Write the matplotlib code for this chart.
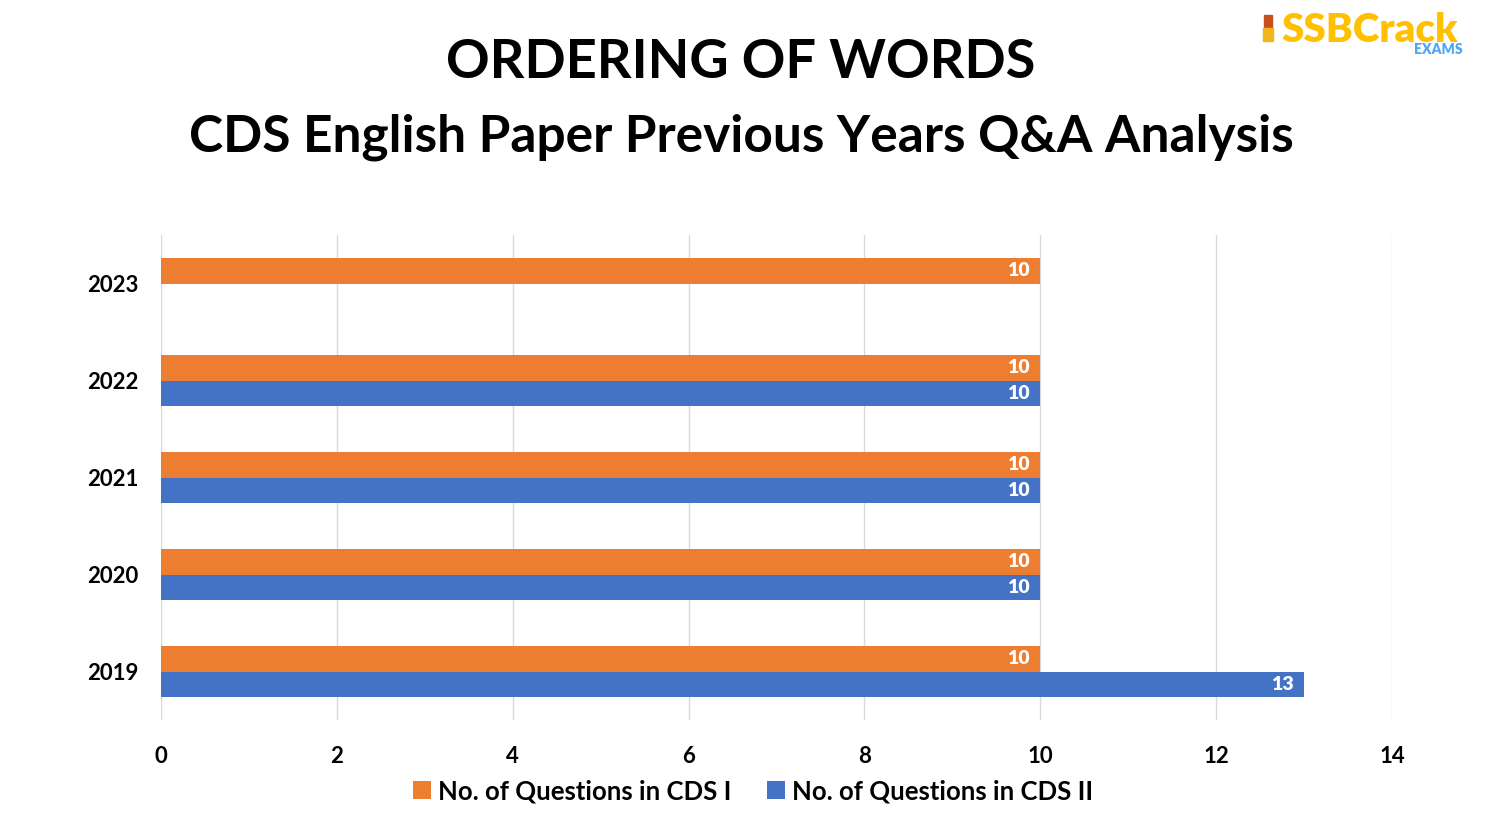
import matplotlib.pyplot as plt
import numpy as np

years = ["2019", "2020", "2021", "2022", "2023"]
cds1 = [10, 10, 10, 10, 10]
cds2 = [13, 10, 10, 10, None]
xticks = [0, 2, 4, 6, 8, 10, 12, 14]

orange = "#ED7D31"
blue = "#4472C4"
font = "Lato"

fig = plt.figure(figsize=(14.91, 8.26), dpi=100)
ax = fig.add_axes([161 / 1491, 1 - 720 / 826, (1392 - 161) / 1491, (720 - 235) / 826])

y = np.arange(len(years))
h = 0.262
ax.barh(y + h / 2, cds1, height=h, color=orange, label="No. of Questions in CDS I", zorder=3)
y2 = [yy for yy, v in zip(y, cds2) if v is not None]
v2 = [v for v in cds2 if v is not None]
ax.barh(np.array(y2) - h / 2, v2, height=h, color=blue, label="No. of Questions in CDS II", zorder=3)

for yy, v in zip(y, cds1):
    ax.text(v - 0.12, yy + h / 2, str(v), color="white", fontsize=14, fontweight="heavy",
            family=font, ha="right", va="center", zorder=4)
for yy, v in zip(y2, v2):
    ax.text(v - 0.12, yy - h / 2, str(v), color="white", fontsize=14, fontweight="heavy",
            family=font, ha="right", va="center", zorder=4)

ax.set_xlim(0, 14)
ax.set_ylim(-0.5, len(years) - 0.5)
ax.set_xticks(xticks)
ax.set_xticklabels([str(t) for t in xticks], fontsize=16, fontweight="bold", family=font)
ax.set_yticks(y)
ax.set_yticklabels(years, fontsize=16, fontweight="bold", family=font)
ax.tick_params(axis="x", length=0, pad=19)
ax.tick_params(axis="y", length=0, pad=16)
ax.grid(axis="x", color="#D9D9D9", linewidth=1, zorder=0)
for s in ax.spines.values():
    s.set_visible(False)

leg = ax.legend(loc="upper center", bbox_to_anchor=(0.481, -0.074), ncol=2, frameon=False,
                prop={"family": font, "weight": "bold", "size": 18.5},
                handlelength=0.7, handleheight=0.7, handletextpad=0.25, columnspacing=1.4)

fig.text(0.497, 1 - 63 / 826, "ORDERING OF WORDS", ha="center", va="center",
         fontsize=39, fontweight="bold", family=font)
fig.text(0.497, 1 - 137 / 826, "CDS English Paper Previous Years Q&A Analysis", ha="center",
         va="center", fontsize=37, fontweight="bold", family=font)

# logo
fig.text(1281 / 1491, 1 - 42 / 826, "SSBCrack", ha="left", va="baseline", fontsize=29,
         fontweight="heavy", family=font, color="#FFC000")
fig.text(1463 / 1491, 1 - 54 / 826, "EXAMS", ha="right", va="baseline", fontsize=10,
         fontweight="heavy", family=font, color="#4DA6F5")
fig.patches.append(plt.Rectangle((1264 / 1491, 1 - 28 / 826), 8 / 1491, 13 / 826,
                                 transform=fig.transFigure, color="#C8501E"))
fig.patches.append(plt.Rectangle((1263 / 1491, 1 - 41 / 826), 10 / 1491, 13 / 826,
                                 transform=fig.transFigure, color="#F2B51C"))

fig.savefig("out.png", dpi=100)
